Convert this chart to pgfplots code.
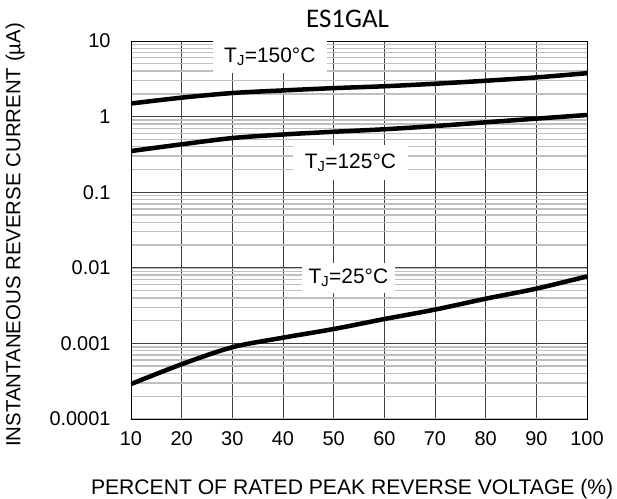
\documentclass[border=0pt]{standalone}
\usepackage{fontspec}
\setmainfont{Liberation Sans}
\newfontfamily\calibri{Carlito}
\usepackage{pgfplots}
\pgfplotsset{compat=1.18}
\begin{document}
\begin{tikzpicture}
\useasboundingbox (-131bp,-80bp) rectangle (486bp,419bp);
\begin{axis}[
  scale only axis, width=456bp, height=378bp,
  at={(0,0)}, anchor=south west,
  ymode=log, xmin=10, xmax=100, ymin=1e-4, ymax=10,
  xtick={10,20,...,100},
  ytick={1e-4,1e-3,1e-2,1e-1,1,10},
  yticklabels={0.0001,0.001,0.01,0.1,1,10},
  /pgf/number format/assume math mode=true,
  ticklabel style={font=\fontsize{20}{22}\selectfont},
  xticklabel style={yshift=-9bp},
  yticklabel style={xshift=-17bp},
  major tick length=0pt, minor tick length=0pt,
  xmajorgrids, ymajorgrids, yminorgrids,
  major grid style={black!75, line width=0.7bp},
  minor grid style={black!25, line width=1.4bp},
  axis line style={black, line width=0.9bp},
  title={ES1GAL},
  title style={font=\calibri\fontsize{27}{30}\selectfont, at={(0.475,1)}, anchor=base, yshift=8bp},
  xlabel={PERCENT OF RATED PEAK REVERSE VOLTAGE (\%)},
  xlabel style={font=\fontsize{21.2}{22}\selectfont, at={(0.485,0)}, anchor=base, yshift=-75bp},
  ylabel={INSTANTANEOUS REVERSE CURRENT (µA)},
  ylabel style={font=\fontsize{20.5}{22}\selectfont, at={(-0.283,0.487)}, anchor=north},
]
\node[fill=white, minimum width=114bp, minimum height=32bp, inner sep=0pt, font=\fontsize{21}{22}\selectfont] at (axis cs:37.4,6.14) {T\textsubscript{J}=150°C};
\node[fill=white, minimum width=115bp, minimum height=35bp, inner sep=0pt, font=\fontsize{21}{22}\selectfont] at (axis cs:53.3,0.247) {T\textsubscript{J}=125°C};
\node[fill=white, minimum width=93bp, minimum height=30bp, inner sep=0pt, font=\fontsize{21}{22}\selectfont] at (axis cs:52.9,0.00733) {T\textsubscript{J}=25°C};
\addplot[black, line width=4.5bp, smooth] coordinates {(10,1.49) (20,1.78) (30,2.05) (40,2.22) (50,2.38) (60,2.52) (70,2.72) (80,2.98) (90,3.3) (100,3.75)};
\addplot[black, line width=4.5bp, smooth] coordinates {(10,0.35) (20,0.43) (30,0.52) (40,0.58) (50,0.63) (60,0.68) (70,0.75) (80,0.84) (90,0.94) (100,1.05)};
\addplot[black, line width=4.5bp, smooth] coordinates {(10,0.00029) (20,0.00053) (30,0.00089) (40,0.00119) (50,0.00155) (60,0.0021) (70,0.0028) (80,0.0039) (90,0.0053) (100,0.0077)};
\end{axis}
\end{tikzpicture}
\end{document}
